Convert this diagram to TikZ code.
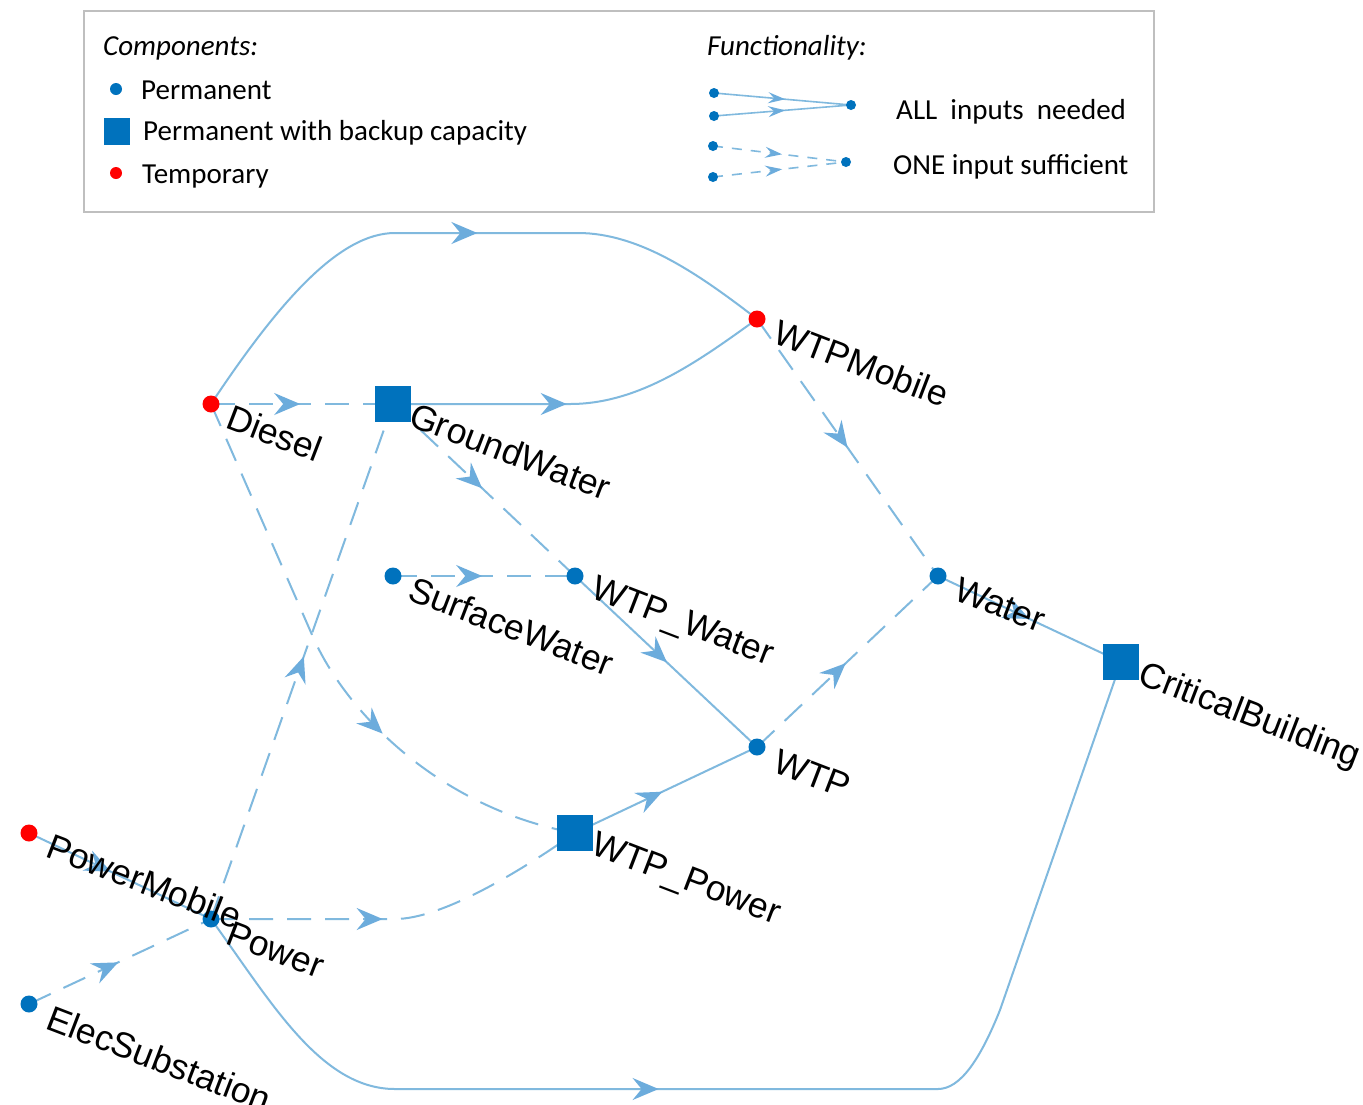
\documentclass[tikz,border=0pt]{standalone}
\usepackage{fontspec}
\setmainfont{Liberation Sans}
\newfontfamily\legfont{Carlito}
\usetikzlibrary{arrows.meta,decorations.markings,calc,backgrounds}
\definecolor{nodeblue}{RGB}{0,114,189}
\definecolor{edgeblue}{RGB}{128,185,222}
\definecolor{arrowblue}{RGB}{108,172,220}
\definecolor{nodered}{RGB}{255,0,0}
\definecolor{boxgray}{RGB}{191,191,191}
\begin{document}
\begin{tikzpicture}[x=1pt,y=-1pt,
  perm/.style={circle,fill=nodeblue,minimum size=17pt,inner sep=0pt},
  temp/.style={circle,fill=nodered,minimum size=17pt,inner sep=0pt},
  backup/.style={rectangle,fill=nodeblue,minimum size=36pt,inner sep=0pt},
  lbl/.style={rotate=-21,anchor=base west,inner sep=0pt,font=\fontsize{35.5}{40}\selectfont},
  conn/.style={draw=edgeblue,line width=2pt},
  dconn/.style={conn,dash pattern=on 24pt off 14pt},
  midarrow/.style={postaction=decorate,decoration={markings,mark=at position #1 with {\arrow[arrowblue]{Stealth[length=26pt,width=22pt,inset=9pt]}}}},
  legtext/.style={anchor=base west,inner sep=0pt,font=\legfont\fontsize{29}{34}\selectfont},
  legital/.style={legtext,font=\legfont\itshape\fontsize{29}{34}\selectfont},
  legdot/.style={circle,fill=nodeblue,minimum size=10pt,inner sep=0pt},
  lconn/.style={draw=edgeblue,line width=1.6pt},
  ldconn/.style={lconn,dash pattern=on 10pt off 9pt},
  lmid/.style={postaction=decorate,decoration={markings,mark=at position #1 with {\arrow[arrowblue]{Stealth[length=17pt,width=11pt,inset=6pt]}}}}
]
\useasboundingbox (0,0) rectangle (1363,1104);

% ---------- legend ----------
\node[draw=boxgray,line width=2pt,minimum width=1070pt,minimum height=201pt,inner sep=0pt,anchor=north west] (legend) at (83,10) {};
\node[legital] (compT) at (103,55) {Components:};
\node[circle,fill=nodeblue,minimum size=12pt,inner sep=0pt] (legP) at (116,89) {};
\node[legtext] (legPt) at (141,99) {Permanent};
\node[rectangle,fill=nodeblue,minimum width=26pt,minimum height=27pt,inner sep=0pt] (legB) at (117,131) {};
\node[legtext] (legBt) at (143,140) {Permanent with backup capacity};
\node[circle,fill=nodered,minimum size=12pt,inner sep=0pt] (legT) at (116,173) {};
\node[legtext] (legTt) at (142,183) {Temporary};

\node[legital] (funcT) at (707,55) {Functionality:};
\node[legdot] (fa1) at (714,93) {};
\node[legdot] (fa2) at (714,116) {};
\node[legdot] (fa3) at (851,105) {};
\node[legdot] (fo1) at (713,146) {};
\node[legdot] (fo2) at (713,177) {};
\node[legdot] (fo3) at (846,162) {};
\node[legtext] (allT) at (896,119) {ALL\ \ inputs\ \ needed};
\node[legtext] (oneT) at (893,174) {ONE input sufficient};

% ---------- graph nodes ----------
\node[temp]   (Diesel) at (211,404) {};
\node[backup] (GW)     at (393,404) {};
\node[temp]   (WTPM)   at (757,319) {};
\node[perm]   (SW)     at (393,576) {};
\node[perm]   (WTPW)   at (575,576) {};
\node[perm]   (Water)  at (938,576) {};
\node[backup] (CB)     at (1121,662) {};
\node[perm]   (WTP)    at (757,747) {};
\node[backup] (WTPP)   at (575,833) {};
\node[temp]   (PM)     at (29,833) {};
\node[perm]   (Power)  at (211,919) {};
\node[perm]   (ES)     at (29,1004) {};

% ---------- labels ----------
\node[lbl] (lDiesel) at ($(Diesel)+(13,23)$) {Diesel};
\node[lbl] (lGW)     at ($(GW)+(14,21)$) {GroundWater};
\node[lbl] (lWTPM)   at ($(WTPM)+(14,23)$) {WTPMobile};
\node[lbl] (lSW)     at ($(SW)+(13,23)$) {SurfaceWater};
\node[lbl] (lWTPW)   at ($(WTPW)+(14,21)$) {WTP\_Water};
\node[lbl] (lWater)  at ($(Water)+(14,23)$) {Water};
\node[lbl] (lCB)     at ($(CB)+(15,21)$) {CriticalBuilding};
\node[lbl] (lWTP)    at ($(WTP)+(14,24)$) {WTP};
\node[lbl] (lWTPP)   at ($(WTPP)+(14,20)$) {WTP\_Power};
\node[lbl] (lPM)     at ($(PM)+(15,23)$) {PowerMobile};
\node[lbl] (lPower)  at ($(Power)+(13,24)$) {Power};
\node[lbl] (lES)     at ($(ES)+(15,24)$) {ElecSubstation};

% ---------- connectors ----------
\begin{scope}[on background layer]
\fill[white] (0,0) rectangle (1363,1104);
% legend connectors
\draw[lconn,lmid=0.52] (fa1.center) -- (fa3.center);
\draw[lconn,lmid=0.52] (fa2.center) -- (fa3.center);
\draw[ldconn,lmid=0.52] (fo1.center) -- (fo3.center);
\draw[ldconn,lmid=0.52] (fo2.center) -- (fo3.center);
% graph connectors
\draw[conn,midarrow=0.53] (Diesel.center) .. controls (280,300) and (340,233) .. (395,233) -- (578,233) .. controls (640,233) and (700,275) .. (WTPM.center);
\draw[dconn,midarrow=0.49] (Diesel.center) -- (GW.center);
\draw[dconn,midarrow=0.63] (Diesel.center) -- (313,637) .. controls (345,710) and (437,808) .. (WTPP.center);
\draw[conn,midarrow=0.45] (GW.center) -- (570,404) .. controls (640,404) and (700,360) .. (WTPM.center);
\draw[dconn,midarrow=0.49] (GW.center) -- (WTPW.center);
\draw[dconn,midarrow=0.49] (SW.center) -- (WTPW.center);
\draw[conn,midarrow=0.505] (WTPW.center) -- (WTP.center);
\draw[dconn,midarrow=0.5] (WTPM.center) -- (Water.center);
\draw[dconn,midarrow=0.49] (WTP.center) -- (Water.center);
\draw[conn,midarrow=0.5] (Water.center) -- (CB.center);
\draw[conn,midarrow=0.48] (WTPP.center) -- (WTP.center);
\draw[conn,midarrow=0.45] (PM.center) -- (Power.center);
\draw[dconn,midarrow=0.49] (ES.center) -- (Power.center);
\draw[dconn,midarrow=0.51] (Power.center) -- (GW.center);
\draw[dconn,midarrow=0.445] (Power.center) -- (395,919) .. controls (440,919) and (515,875) .. (WTPP.center);
\draw[conn,midarrow=0.41] (Power.center) .. controls (270,1000) and (320,1089) .. (395,1089) -- (938,1089) .. controls (960,1089) and (980,1060) .. (1000,1010) -- (CB.center);
\end{scope}
\end{tikzpicture}
\end{document}
